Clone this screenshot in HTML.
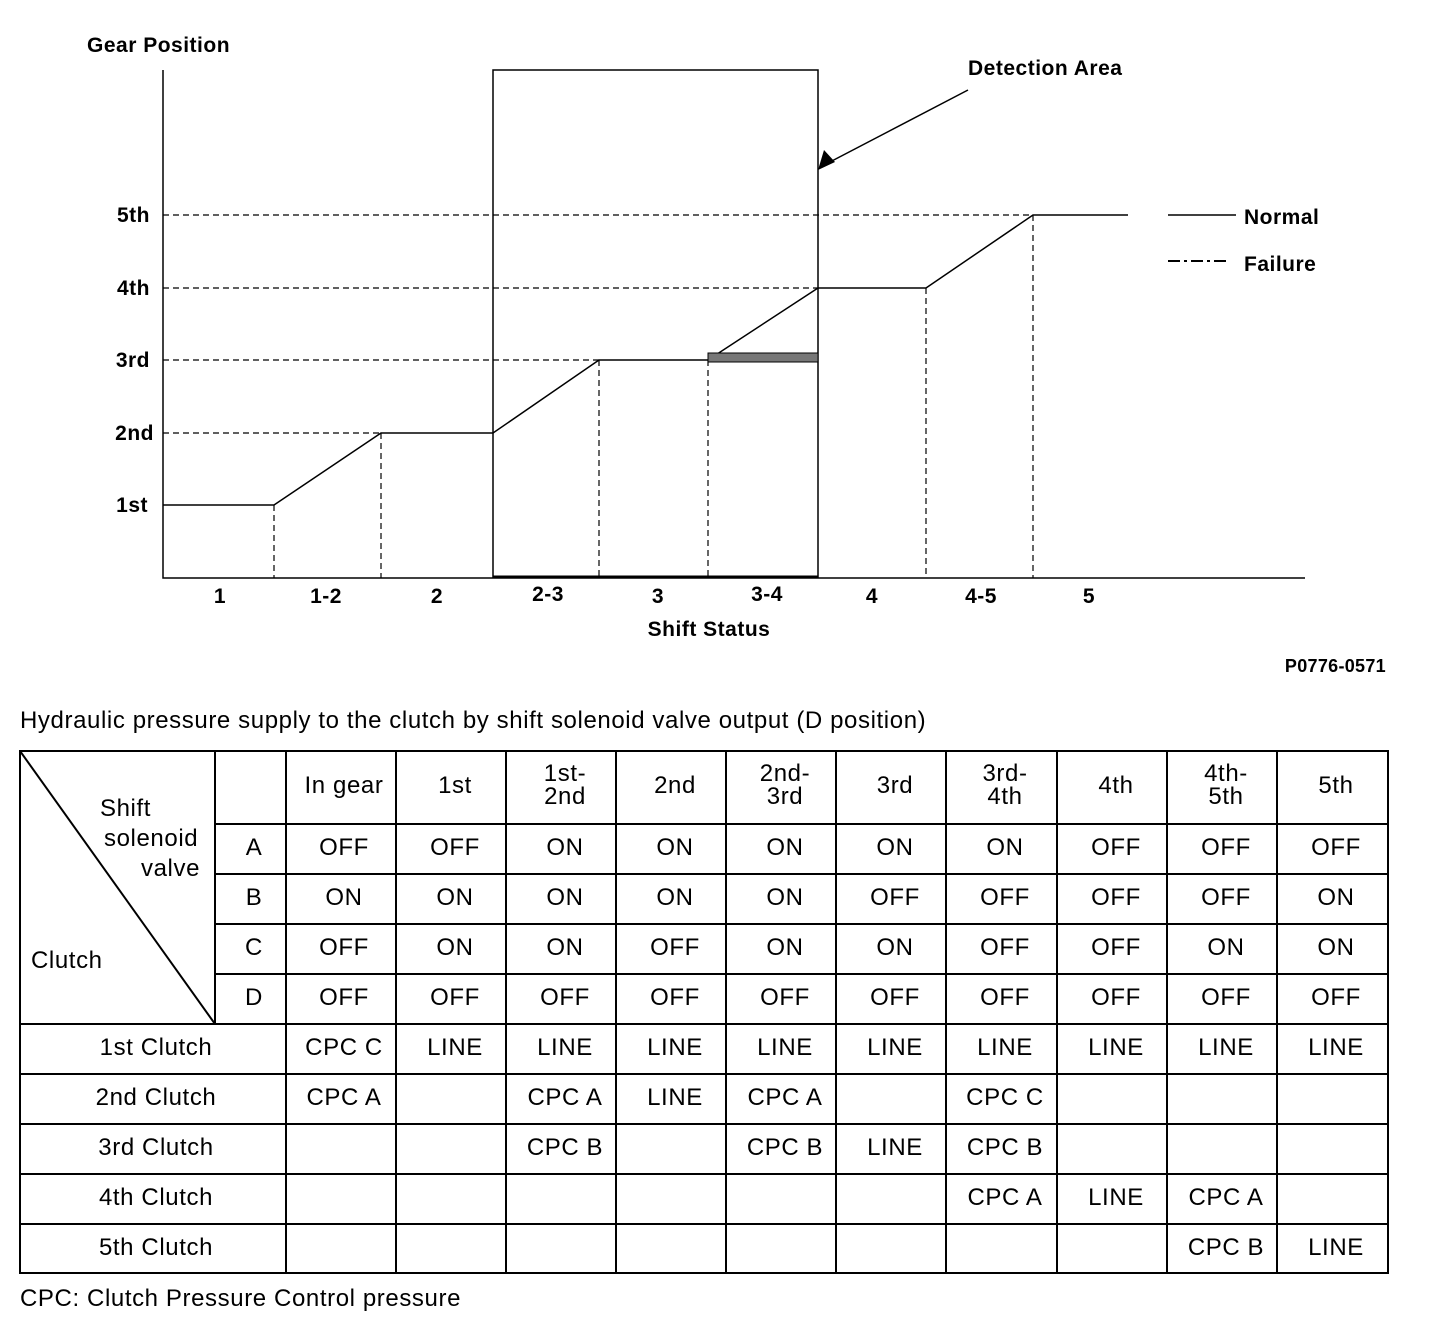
<!DOCTYPE html><html><head><style>body{margin:0;background:#fff}svg{display:block}</style></head><body>
<svg width="1440" height="1326" xmlns="http://www.w3.org/2000/svg" font-family="Liberation Sans, Arial, sans-serif">
<g font-weight="bold" font-size="21" fill="#000" letter-spacing="0.5">
<text x="87" y="52">Gear Position</text>
<text x="968" y="75">Detection Area</text>
<text x="1244" y="224">Normal</text>
<text x="1244" y="271">Failure</text>
<g text-anchor="end"><text x="150" y="222">5th</text><text x="150" y="295">4th</text><text x="150" y="367">3rd</text><text x="154" y="440">2nd</text><text x="148" y="512">1st</text></g>
<g text-anchor="middle"><text x="220" y="603">1</text><text x="326" y="603">1-2</text><text x="437" y="603">2</text><text x="548" y="601">2-3</text><text x="658" y="603">3</text><text x="767" y="601">3-4</text><text x="872" y="603">4</text><text x="981" y="603">4-5</text><text x="1089" y="603">5</text><text x="709" y="636">Shift Status</text></g>
<text x="1386" y="672" text-anchor="end" font-size="18" letter-spacing="0.3">P0776-0571</text>
</g>
<g stroke="#000" fill="none" stroke-width="1.5">
<path d="M163 70V578H1305"/>
<path d="M493 578V70H818V578"/>
<path d="M493 577H818" stroke-width="3"/>
<path d="M163 505H274L381 433H493L599 360H708L818 288H926L1033 215H1128"/>
<path d="M1168 215H1236"/>
<path d="M1168 261h12M1184 261h3M1191 261h12M1207 261h3M1214 261h12" stroke-width="2"/>
<g stroke-dasharray="6,4" stroke-width="1.2"><path d="M163 215H1033M163 288H818M163 360H599M163 433H381"/>
<path d="M274 505V578M381 433V578M599 360V578M708 360V578M926 288V578M1033 215V578"/></g>
<path d="M968 90L828 163"/>
</g>
<rect x="708" y="353" width="110" height="9" fill="#777" stroke="#000"/>
<polygon points="818,170 835,162 824,150" fill="#000"/>
<g font-size="24" fill="#000" letter-spacing="0.6">
<text x="20" y="728">Hydraulic pressure supply to the clutch by shift solenoid valve output (D position)</text>
<text x="20" y="1306">CPC: Clutch Pressure Control pressure</text>
<text x="100" y="816">Shift</text><text x="104" y="846">solenoid</text><text x="141" y="876">valve</text><text x="31" y="968">Clutch</text>
</g>
<g stroke="#000" stroke-width="2" fill="none">
<rect x="20" y="751" width="1368" height="522"/>
<path d="M20 751L215 1024M215 751V1024M286 751V1273M396 751V1273M506 751V1273M616 751V1273M726 751V1273M836 751V1273M946 751V1273M1057 751V1273M1167 751V1273M1277 751V1273"/>
<path d="M215 824H1388M215 874H1388M215 924H1388M215 974H1388M20 1024H1388M20 1074H1388M20 1124H1388M20 1174H1388M20 1224H1388"/>
</g>
<g font-size="24" fill="#000" text-anchor="middle" letter-spacing="0.6">
<text x="344" y="793">In gear</text><text x="455" y="793">1st</text><text x="565" y="781">1st-</text><text x="565" y="804">2nd</text><text x="675" y="793">2nd</text><text x="785" y="781">2nd-</text><text x="785" y="804">3rd</text><text x="895" y="793">3rd</text><text x="1005" y="781">3rd-</text><text x="1005" y="804">4th</text><text x="1116" y="793">4th</text><text x="1226" y="781">4th-</text><text x="1226" y="804">5th</text><text x="1336" y="793">5th</text>
<text x="254" y="855">A</text><text x="254" y="905">B</text><text x="254" y="955">C</text><text x="254" y="1005">D</text>
<g>
<text y="855"><tspan x="344">OFF</tspan><tspan x="455">OFF</tspan><tspan x="565">ON</tspan><tspan x="675">ON</tspan><tspan x="785">ON</tspan><tspan x="895">ON</tspan><tspan x="1005">ON</tspan><tspan x="1116">OFF</tspan><tspan x="1226">OFF</tspan><tspan x="1336">OFF</tspan></text>
<text y="905"><tspan x="344">ON</tspan><tspan x="455">ON</tspan><tspan x="565">ON</tspan><tspan x="675">ON</tspan><tspan x="785">ON</tspan><tspan x="895">OFF</tspan><tspan x="1005">OFF</tspan><tspan x="1116">OFF</tspan><tspan x="1226">OFF</tspan><tspan x="1336">ON</tspan></text>
<text y="955"><tspan x="344">OFF</tspan><tspan x="455">ON</tspan><tspan x="565">ON</tspan><tspan x="675">OFF</tspan><tspan x="785">ON</tspan><tspan x="895">ON</tspan><tspan x="1005">OFF</tspan><tspan x="1116">OFF</tspan><tspan x="1226">ON</tspan><tspan x="1336">ON</tspan></text>
<text y="1005"><tspan x="344">OFF</tspan><tspan x="455">OFF</tspan><tspan x="565">OFF</tspan><tspan x="675">OFF</tspan><tspan x="785">OFF</tspan><tspan x="895">OFF</tspan><tspan x="1005">OFF</tspan><tspan x="1116">OFF</tspan><tspan x="1226">OFF</tspan><tspan x="1336">OFF</tspan></text>
<text y="1055"><tspan x="156">1st Clutch</tspan><tspan x="344">CPC C</tspan><tspan x="455">LINE</tspan><tspan x="565">LINE</tspan><tspan x="675">LINE</tspan><tspan x="785">LINE</tspan><tspan x="895">LINE</tspan><tspan x="1005">LINE</tspan><tspan x="1116">LINE</tspan><tspan x="1226">LINE</tspan><tspan x="1336">LINE</tspan></text>
<text y="1105"><tspan x="156">2nd Clutch</tspan><tspan x="344">CPC A</tspan><tspan x="565">CPC A</tspan><tspan x="675">LINE</tspan><tspan x="785">CPC A</tspan><tspan x="1005">CPC C</tspan></text>
<text y="1155"><tspan x="156">3rd Clutch</tspan><tspan x="565">CPC B</tspan><tspan x="785">CPC B</tspan><tspan x="895">LINE</tspan><tspan x="1005">CPC B</tspan></text>
<text y="1205"><tspan x="156">4th Clutch</tspan><tspan x="1005">CPC A</tspan><tspan x="1116">LINE</tspan><tspan x="1226">CPC A</tspan></text>
<text y="1255"><tspan x="156">5th Clutch</tspan><tspan x="1226">CPC B</tspan><tspan x="1336">LINE</tspan></text>
</g></g>
</svg></body></html>
